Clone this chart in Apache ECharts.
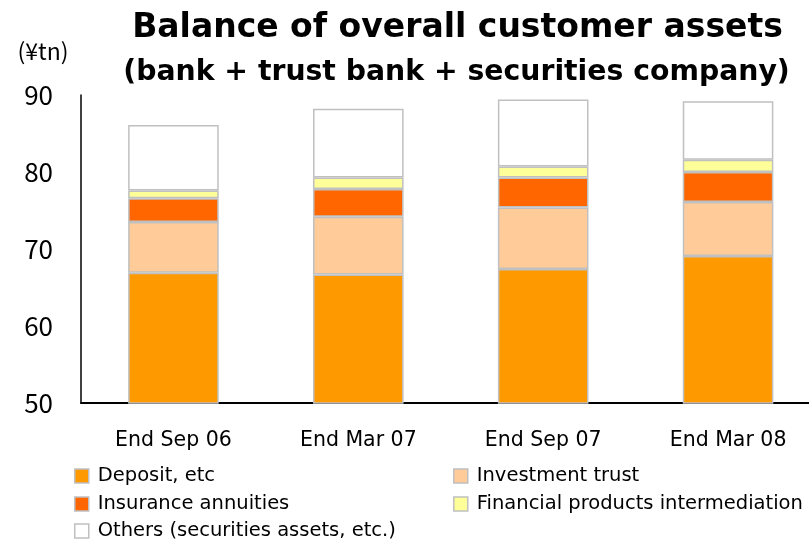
<!DOCTYPE html>
<html>
<head>
<meta charset="utf-8">
<script src="https://cdn.jsdelivr.net/npm/echarts@6/dist/echarts.min.js"></script>
<style>
  html, body { margin: 0; padding: 0; background: #fff; }
  #chart { width: 809px; height: 540px; }
</style>
</head>
<body>
<div id="chart"></div>
<script>
// Reporting dates along the horizontal axis
const categories = ['End Sep 06', 'End Mar 07', 'End Sep 07', 'End Mar 08'];

// Balance by component (¥ trillion), stacked bottom to top
const depositEtc = [66.9, 66.7, 67.4, 69.1];
const investmentTrust = [6.6, 7.5, 8.0, 7.0];
const insuranceAnnuities = [3.1, 3.6, 3.9, 3.9];
const financialProducts = [1.0, 1.5, 1.4, 1.6];
const othersAssets = [8.5, 8.9, 8.7, 7.6];

// Series names as shown in the legend
const seriesNames = [
  'Deposit, etc',
  'Investment trust',
  'Insurance annuities',
  'Financial products intermediation',
  'Others (securities assets, etc.)'
];

// Value axis range and step
const yMin = 50;
const yMax = 90;
const yStep = 10;

const titleText = 'Balance of overall customer assets';
const subtitleText = '(bank + trust bank + securities company)';
const unitText = '(¥tn)';

const seriesData = [depositEtc, investmentTrust, insuranceAnnuities, financialProducts, othersAssets];
const seriesColors = ['#FF9900', '#FFCC99', '#FF6600', '#FFFF99', '#FFFFFF'];

// Legend slots: two columns, three rows
const legendSlots = [
  { left: 74, top: 466 },   // Deposit, etc
  { left: 453, top: 466 },  // Investment trust
  { left: 74, top: 494 },   // Insurance annuities
  { left: 453, top: 494 },  // Financial products intermediation
  { left: 74, top: 521 }    // Others
];

const chart = echarts.init(document.getElementById('chart'), null, { renderer: 'canvas' });

const legendText = {
  fontFamily: 'DejaVu Sans',
  fontSize: 19.5,
  color: '#000',
  padding: [0, 0, 0, 4]
};

const option = {
  backgroundColor: '#fff',
  animation: false,
  graphic: [
    {
      type: 'text', x: 457.5, y: 28.5,
      style: {
        text: titleText, align: 'center', verticalAlign: 'middle',
        fontFamily: 'DejaVu Sans', fontWeight: 'bold', fontSize: 33, fill: '#000'
      }
    },
    {
      type: 'text', x: 456.5, y: 72.5,
      style: {
        text: subtitleText, align: 'center', verticalAlign: 'middle',
        fontFamily: 'DejaVu Sans', fontWeight: 'bold', fontSize: 28.3, fill: '#000'
      }
    },
    {
      type: 'text', x: 43, y: 51,
      style: {
        text: unitText, align: 'center', verticalAlign: 'middle',
        fontFamily: 'Noto Sans CJK JP', fontSize: 23, fill: '#000'
      }
    }
  ],
  legend: legendSlots.map((slot, i) => ({
    orient: 'horizontal', left: slot.left, top: slot.top, padding: 0,
    itemWidth: 14, itemHeight: 14, icon: 'rect', selectedMode: false,
    itemStyle: { borderColor: '#C0C0C0', borderWidth: 1.5 },
    textStyle: legendText,
    data: [seriesNames[i]]
  })),
  grid: {
    left: 81, right: -11.5, top: 95, bottom: 137,
    containLabel: false, outerBoundsMode: 'none'
  },
  xAxis: {
    type: 'category',
    data: categories,
    axisLine: { show: true, lineStyle: { color: '#000', width: 2 } },
    axisTick: { show: false },
    axisLabel: {
      margin: 27, color: '#000',
      fontFamily: 'DejaVu Sans', fontSize: 20.5
    },
    splitLine: { show: false }
  },
  yAxis: {
    type: 'value',
    min: yMin, max: yMax, interval: yStep,
    axisLine: { show: true, lineStyle: { color: '#000', width: 1.5 } },
    axisTick: { show: false },
    splitLine: { show: false },
    axisLabel: {
      margin: 28, color: '#000',
      fontFamily: 'Noto Sans CJK JP', fontSize: 26
    }
  },
  series: seriesData.map((values, i) => ({
    name: seriesNames[i],
    type: 'bar',
    stack: 'total',
    barWidth: '49%',
    clip: true,
    data: values,
    itemStyle: {
      color: seriesColors[i],
      borderColor: '#C0C0C0',
      borderWidth: 1.5
    },
    emphasis: { disabled: true }
  }))
};

chart.setOption(option);
</script>
</body>
</html>
